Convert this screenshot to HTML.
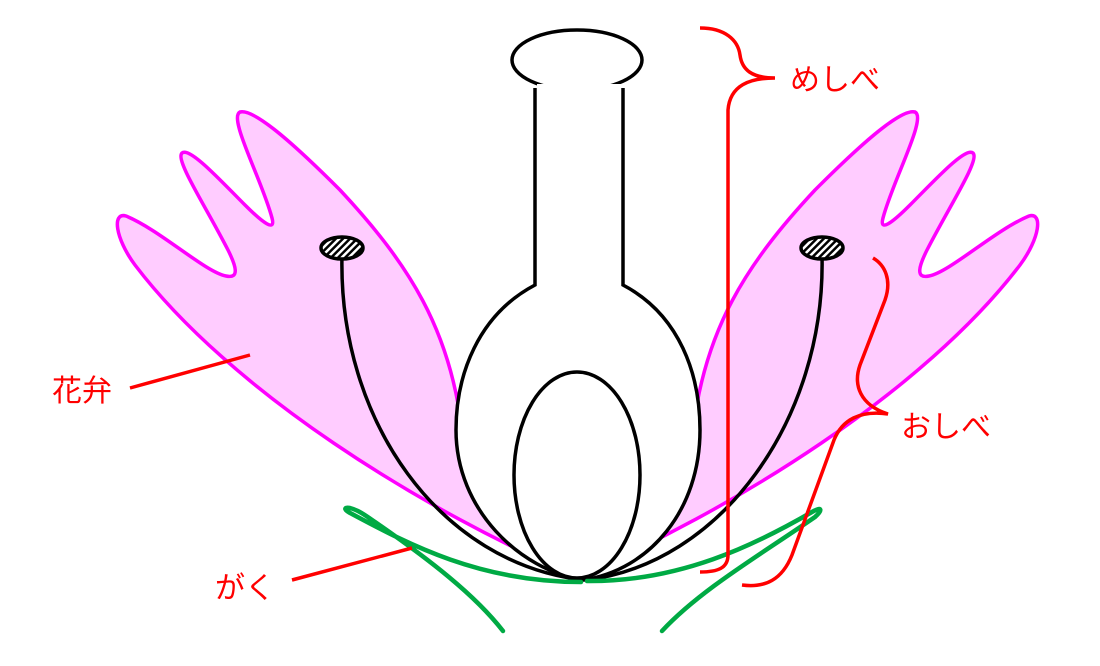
<!DOCTYPE html>
<html><head><meta charset="utf-8"><style>
html,body{margin:0;padding:0;background:#fff;width:1100px;height:666px;overflow:hidden}
svg{display:block}
text{font-family:"Liberation Sans","Noto Sans CJK JP",sans-serif;font-size:30px;fill:#ff0000}
</style></head><body>
<svg width="1100" height="666" viewBox="0 0 1100 666" xmlns="http://www.w3.org/2000/svg">
<defs>
<pattern id="h" width="5" height="5" patternUnits="userSpaceOnUse" patternTransform="rotate(45)">
<rect width="5" height="5" fill="#fff"/><rect width="2.5" height="5" fill="#000"/>
</pattern>
<path id="pet" d="M585,580 C420,510 230,390 135,265 C115,238 112,212 126,216 C160,230 205,272 226,276 C240,279 236,266 228,250 C205,205 175,160 182,153 C190,147 220,180 245,205 C262,222 276,233 272,218 C262,180 228,118 240,112 C255,108 300,150 340,190 C410,265 450,330 462,430 Z" fill="#ffccff" stroke="#ff00ff" stroke-width="3.5" stroke-linejoin="round"/>
</defs>
<use href="#pet"/>
<use href="#pet" transform="translate(1155,0) scale(-1,1)"/>
<g fill="none" stroke="#000" stroke-width="3.5">
<path d="M342,255 C338,420 440,565 585,580"/>
<path d="M822,255 C826,420 720,565 585,580"/>
</g>
<ellipse cx="342" cy="248" rx="21" ry="11" fill="url(#h)" stroke="#000" stroke-width="3.5"/>
<ellipse cx="822" cy="248" rx="21" ry="11" fill="url(#h)" stroke="#000" stroke-width="3.5"/>
<path d="M535,88 L535,285 C478,315 456,375 456,430 C456,510 520,570 583,580 C650,570 700,510 700,430 C700,375 680,315 623,285 L623,88" fill="#fff" stroke="#000" stroke-width="3.5"/>
<ellipse cx="577" cy="60" rx="65" ry="30" fill="#fff" stroke="#000" stroke-width="3.5"/>
<rect x="537" y="84" width="84" height="10" fill="#fff"/>
<ellipse cx="577" cy="475" rx="63" ry="103" fill="#fff" stroke="#000" stroke-width="3.5"/>
<g fill="none" stroke="#00aa44" stroke-width="4.5" stroke-linecap="round" stroke-linejoin="round">
<path d="M581,582 C480,582 410,545 352,514 C344,510 343,507 350,508 C358,510 365,515 375,522 C430,560 475,595 503,631"/>
<path d="M587,581 C680,582 755,545 812,512 C822,506 823,510 815,517 C760,555 700,590 662,631"/>
</g>
<g fill="none" stroke="#ff0000" stroke-width="3.5">
<path d="M700,28 C725,28 738,40 740,55 C742,70 752,78 775,78 C750,78 730,85 728,110 L728,555 C728,568 718,572 700,572"/>
<path d="M873,258 C885,265 892,280 885,300 L860,365 C853,385 860,405 888,414 C860,410 842,420 834,440 L792,555 C782,580 765,588 742,585"/>
<path d="M130,388 L250,355"/>
<path d="M292,580 L412,548"/>
</g>
<text x="790" y="90">めしべ</text>
<text x="901" y="437">おしべ</text>
<text x="52" y="401">花弁</text>
<text x="215" y="598">がく</text>
</svg>
</body></html>
